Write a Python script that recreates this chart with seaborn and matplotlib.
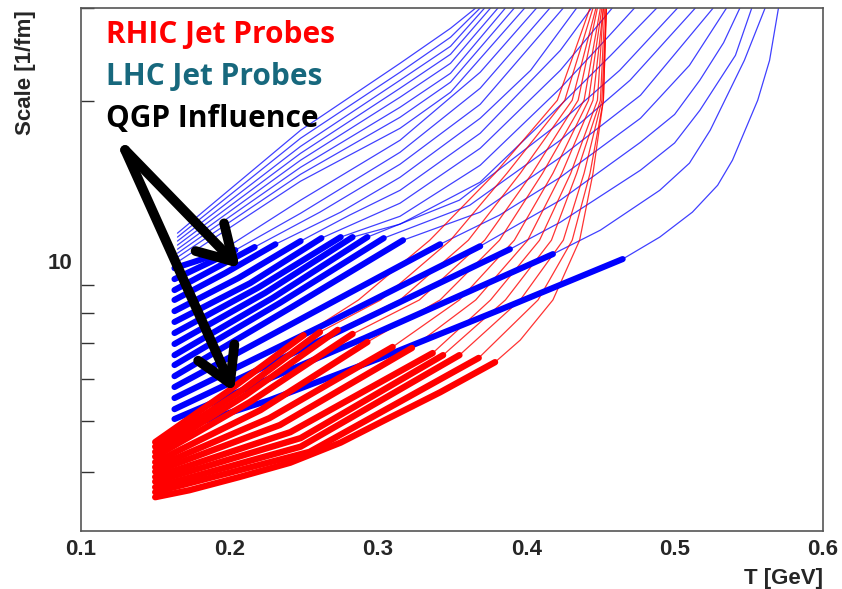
import numpy as np
import pandas as pd
import matplotlib
matplotlib.use('Agg')
import matplotlib.pyplot as plt
from matplotlib.ticker import FixedLocator, NullFormatter
import seaborn as sns

# LHC jet trajectories: T [GeV] vs scale [1/fm]; first n points of each are the thick (QGP) part
lhc_T = [
    [0.165, 0.248, 0.315, 0.349, 0.366],
    [0.165, 0.248, 0.315, 0.349, 0.369],
    [0.165, 0.248, 0.315, 0.349, 0.372],
    [0.165, 0.248, 0.315, 0.349, 0.376],
    [0.165, 0.248, 0.315, 0.349, 0.381],
    [0.165, 0.248, 0.315, 0.349, 0.386],
    [0.165, 0.248, 0.315, 0.349, 0.392],
    [0.165, 0.248, 0.315, 0.349, 0.399],
    [0.163, 0.190, 0.248, 0.315, 0.369, 0.407],
    [0.163, 0.204, 0.248, 0.315, 0.369, 0.416],
    [0.163, 0.217, 0.261, 0.315, 0.369, 0.425],
    [0.163, 0.197, 0.231, 0.275, 0.315, 0.369, 0.403, 0.434],
    [0.163, 0.206, 0.248, 0.281, 0.315, 0.369, 0.423, 0.444],
    [0.163, 0.214, 0.262, 0.315, 0.369, 0.423, 0.458],
    [0.163, 0.219, 0.275, 0.315, 0.369, 0.423, 0.450, 0.473],
    [0.163, 0.224, 0.283, 0.315, 0.369, 0.423, 0.457, 0.488],
    [0.163, 0.229, 0.293, 0.355, 0.423, 0.463, 0.502],
    [0.163, 0.234, 0.304, 0.362, 0.423, 0.470, 0.514],
    [0.163, 0.241, 0.317, 0.369, 0.423, 0.477, 0.526],
    [0.163, 0.253, 0.342, 0.382, 0.423, 0.477, 0.510, 0.535],
    [0.163, 0.266, 0.369, 0.423, 0.477, 0.500, 0.517, 0.533, 0.544],
    [0.163, 0.276, 0.389, 0.423, 0.477, 0.500, 0.517, 0.541, 0.552],
    [0.163, 0.291, 0.418, 0.450, 0.490, 0.510, 0.524, 0.547, 0.561],
    [0.163, 0.227, 0.302, 0.382, 0.465, 0.490, 0.512, 0.529, 0.539, 0.556, 0.564, 0.570],
]
lhc_S = [
    [11.29, 17.65, 23.60, 27.47, 30.0],
    [11.10, 17.05, 22.70, 26.42, 30.0],
    [10.91, 16.46, 21.93, 25.41, 30.0],
    [10.72, 15.97, 21.18, 24.54, 30.0],
    [10.53, 15.50, 20.37, 23.60, 30.0],
    [10.35, 15.03, 19.50, 22.60, 30.0],
    [10.17, 14.58, 18.67, 21.74, 30.0],
    [9.96, 14.15, 17.80, 20.81, 30.0],
    [9.70, 10.26, 13.03, 16.90, 22.70, 30.0],
    [9.25, 10.49, 12.31, 16.04, 21.18, 30.0],
    [8.82, 10.63, 12.37, 15.23, 19.75, 30.0],
    [8.45, 9.49, 10.76, 12.37, 14.39, 18.59, 22.89, 30.0],
    [8.05, 9.29, 10.91, 12.21, 13.60, 17.42, 24.96, 30.0],
    [7.68, 9.09, 11.05, 12.86, 16.32, 22.89, 30.0],
    [7.32, 8.90, 11.10, 12.15, 15.16, 21.18, 25.52, 30.0],
    [6.98, 8.71, 11.10, 11.74, 14.09, 19.67, 24.43, 30.0],
    [6.65, 8.52, 11.10, 13.03, 18.27, 22.89, 30.0],
    [6.37, 8.34, 11.05, 12.75, 16.90, 21.93, 30.0],
    [6.07, 8.16, 10.95, 12.37, 15.69, 20.54, 30.0],
    [5.79, 7.91, 10.76, 12.21, 14.39, 18.59, 23.39, 30.0],
    [5.52, 7.64, 10.67, 13.03, 16.75, 18.90, 21.93, 25.80, 30.0],
    [5.26, 7.42, 10.53, 11.84, 14.84, 16.70, 19.24, 24.43, 30.0],
    [5.04, 7.16, 10.31, 11.44, 13.60, 15.30, 17.65, 23.90, 30.0],
    [4.80, 5.47, 6.57, 8.09, 10.09, 11.10, 12.37, 13.90, 15.50, 20.10, 23.90, 30.0],
]
lhc_thick = [0] * 8 + [2, 2, 2, 3, 3, 3, 3, 3, 3, 3, 3, 3, 3, 3, 3, 5]

# RHIC jet trajectories
rhic_T = [
    [0.150, 0.200, 0.250, 0.287, 0.335, 0.379, 0.421, 0.443],
    [0.150, 0.207, 0.261, 0.302, 0.349, 0.387, 0.426, 0.445],
    [0.150, 0.211, 0.273, 0.315, 0.361, 0.396, 0.431, 0.447],
    [0.150, 0.214, 0.283, 0.328, 0.372, 0.404, 0.435, 0.448],
    [0.150, 0.221, 0.293, 0.342, 0.382, 0.411, 0.439, 0.450],
    [0.150, 0.227, 0.310, 0.355, 0.392, 0.418, 0.442, 0.451],
    [0.150, 0.234, 0.323, 0.366, 0.401, 0.424, 0.445, 0.452],
    [0.150, 0.241, 0.337, 0.376, 0.409, 0.430, 0.448, 0.452],
    [0.150, 0.248, 0.344, 0.386, 0.417, 0.434, 0.450, 0.453],
    [0.150, 0.248, 0.355, 0.396, 0.425, 0.439, 0.451, 0.454],
    [0.150, 0.254, 0.368, 0.408, 0.431, 0.443, 0.452, 0.454],
    [0.150, 0.173, 0.207, 0.241, 0.275, 0.305, 0.342, 0.379, 0.396, 0.418, 0.436, 0.445, 0.452, 0.454],
]
rhic_S = [
    [4.56, 5.71, 7.25, 8.45, 10.95, 14.64, 20.10, 30.0],
    [4.47, 5.67, 7.35, 8.45, 10.95, 14.64, 20.10, 30.0],
    [4.37, 5.59, 7.42, 8.45, 10.95, 14.64, 20.10, 30.0],
    [4.28, 5.43, 7.29, 8.45, 10.95, 14.64, 20.10, 30.0],
    [4.18, 5.24, 7.04, 8.45, 10.95, 14.64, 20.10, 30.0],
    [4.09, 5.06, 6.89, 8.45, 10.95, 14.64, 20.10, 30.0],
    [4.01, 4.91, 6.86, 8.45, 10.95, 14.64, 20.10, 30.0],
    [3.92, 4.76, 6.71, 8.45, 10.95, 14.64, 20.10, 30.0],
    [3.84, 4.64, 6.65, 8.45, 10.95, 14.64, 20.10, 30.0],
    [3.75, 4.47, 6.65, 8.45, 10.95, 14.64, 20.10, 30.0],
    [3.67, 4.37, 6.57, 8.45, 10.95, 14.64, 20.10, 30.0],
    [3.59, 3.70, 3.92, 4.17, 4.55, 5.02, 5.66, 6.45, 7.10, 8.45, 10.95, 14.64, 20.10, 30.0],
]
rhic_thick = [3] * 11 + [8]

labels = ['RHIC Jet Probes', 'LHC Jet Probes', 'QGP Influence']
label_colors = ['#ff0000', '#17687d', '#000000']
arrow_from = (0.1297, 16.2)
arrow_to = [(0.2071, 9.70), (0.2031, 5.67)]


def split(Ts, Ss, nthick):
    thick, thin = [], []
    for c, (t, s, n) in enumerate(zip(Ts, Ss, nthick)):
        for p in range(len(t)):
            if p < n:
                thick.append((c, t[p], s[p]))
            if p >= n - 1:
                thin.append((c, t[p], s[p]))
    cols = ['curve', 'T', 'S']
    return pd.DataFrame(thick, columns=cols), pd.DataFrame(thin, columns=cols)


lhc_thk, lhc_thn = split(lhc_T, lhc_S, lhc_thick)
rhic_thk, rhic_thn = split(rhic_T, rhic_S, rhic_thick)

sns.set_style('white')
plt.rcParams['font.family'] = ['Liberation Sans', 'DejaVu Sans']

fig = plt.figure(figsize=(8.42, 5.89), dpi=100)
ax = fig.add_axes([81 / 842, 1 - 531 / 589, 742 / 842, 523 / 589])

kw = dict(x='T', y='S', units='curve', estimator=None, sort=False, legend=False, ax=ax)
sns.lineplot(data=lhc_thn, color='#0000ff', lw=0.9, alpha=0.75, **kw)
sns.lineplot(data=rhic_thn, color='#ff0000', lw=0.9, alpha=0.8, **kw)
sns.lineplot(data=lhc_thk, color='#0000ff', lw=4.4, solid_capstyle='round', **kw)
sns.lineplot(data=rhic_thk, color='#ff0000', lw=4.6, solid_capstyle='round', **kw)

ax.set_yscale('log')
ax.set_xlim(0.1, 0.6)
ax.set_ylim(3.1, 30.0)
ax.set_xlabel('')
ax.set_ylabel('')

xt = [0.1, 0.2, 0.3, 0.4, 0.5, 0.6]
ax.set_xticks(xt, labels=['%.1f' % v for v in xt], fontweight='bold', fontsize=16)
ax.set_yticks([10], labels=['10'], fontweight='bold', fontsize=16)
ax.yaxis.set_minor_locator(FixedLocator([4, 5, 6, 7, 8, 9, 20, 30]))
ax.yaxis.set_minor_formatter(NullFormatter())
ax.xaxis.set_minor_locator(FixedLocator([]))
ax.tick_params(axis='x', which='major', direction='in', length=18, width=1, pad=6, color='#333333')
ax.tick_params(axis='y', which='major', direction='in', length=17, width=1, pad=6, color='#333333')
ax.tick_params(axis='y', which='minor', direction='in', length=9.5, width=1, left=True, color='#333333')
for s in ax.spines.values():
    s.set_color('#555555')
    s.set_linewidth(1.2)

fig.text(823 / 842, 1 - 584 / 589, 'T [GeV]', ha='right', va='baseline',
         fontsize=16, fontweight='bold')
fig.text(26 / 842, 1 - 10 / 589, 'Scale [1/fm]', rotation=90, ha='center', va='top',
         fontsize=16, fontweight='bold')

for i, (lab, col) in enumerate(zip(labels, label_colors)):
    fig.text(106 / 842, 1 - (43 + 42 * i) / 589, lab, color=col, ha='left', va='baseline',
             fontsize=21.5, fontweight='bold', family=['Open Sans', 'DejaVu Sans'])

for tip in arrow_to:
    ax.annotate('', xy=tip, xytext=arrow_from, zorder=10,
                arrowprops=dict(arrowstyle='->, head_length=1.1, head_width=0.65',
                                mutation_scale=22, lw=7, color='black',
                                shrinkA=0, shrinkB=0))

fig.savefig('out.png', dpi=100)
